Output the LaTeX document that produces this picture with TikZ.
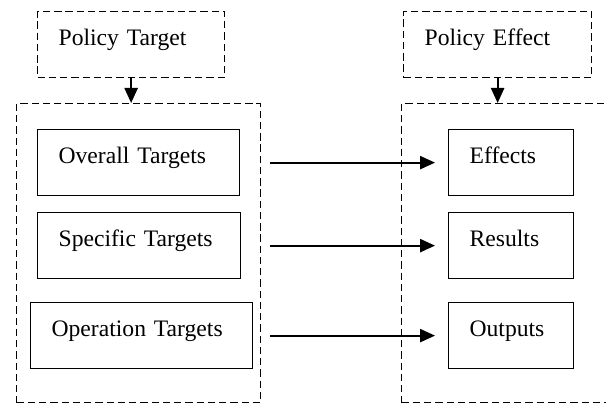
\documentclass[tikz,border=0pt]{standalone}
\usepackage{fontspec}
\setmainfont{Liberation Serif}
\usetikzlibrary{arrows.meta,positioning}

\tikzset{
  boxnode/.style={draw, line width=0.9pt, anchor=north west, inner xsep=0.525cm, inner ysep=0pt,
    align=left, text height=0.85cm, text depth=0.8cm, font=\fontsize{16.8}{20}\selectfont},
  dashnode/.style={boxnode, dash pattern=on 5.2pt off 2.8pt},
  groupnode/.style={draw, line width=0.9pt, dash pattern=on 5.2pt off 2.8pt, anchor=north west,
    inner sep=0pt, minimum width=6.1cm, minimum height=7.475cm},
  arr/.style={-{Triangle[length=0.375cm,width=0.33cm]}, line width=1.3pt}
}

\begin{document}
\begin{tikzpicture}
    \clip (0,0) rectangle (15.15,10.075);

    % Targets
    \node[dashnode, text width=3.625cm] (ptarget) at (0.925,9.8) {Policy Target};
    \node[groupnode] (tgroup) at (0.4,7.5) {};
    \node[boxnode, text width=4cm] (overall) at (0.925,6.85) {Overall Targets};
    \node[boxnode, text width=4.025cm] (specific) at (0.925,4.775) {Specific Targets};
    \node[boxnode, text width=4.5cm] (operation) at (0.75,2.525) {Operation Targets};

    % Effects
    \node[dashnode, text width=3.65cm] (peffect) at (10.075,9.8) {Policy Effect};
    \node[groupnode] (egroup) at (10.025,7.5) {};
    \node[boxnode, text width=2.075cm] (effects) at (11.2,6.85) {Effects};
    \node[boxnode, text width=2.075cm] (results) at (11.2,4.775) {Results};
    \node[boxnode, text width=2.075cm] (outputs) at (11.2,2.525) {Outputs};

    % Arrows
    \draw[arr] (ptarget.south) -- (ptarget.south |- tgroup.north);
    \draw[arr] (peffect.south) -- (peffect.south |- egroup.north);
    \draw[arr, shorten <=0.225cm, shorten >=0.325cm] (overall.east -| tgroup.east) -- (effects.west);
    \draw[arr, shorten <=0.225cm, shorten >=0.325cm] (specific.east -| tgroup.east) -- (results.west);
    \draw[arr, shorten <=0.225cm, shorten >=0.325cm] (operation.east -| tgroup.east) -- (outputs.west);
\end{tikzpicture}
\end{document}
